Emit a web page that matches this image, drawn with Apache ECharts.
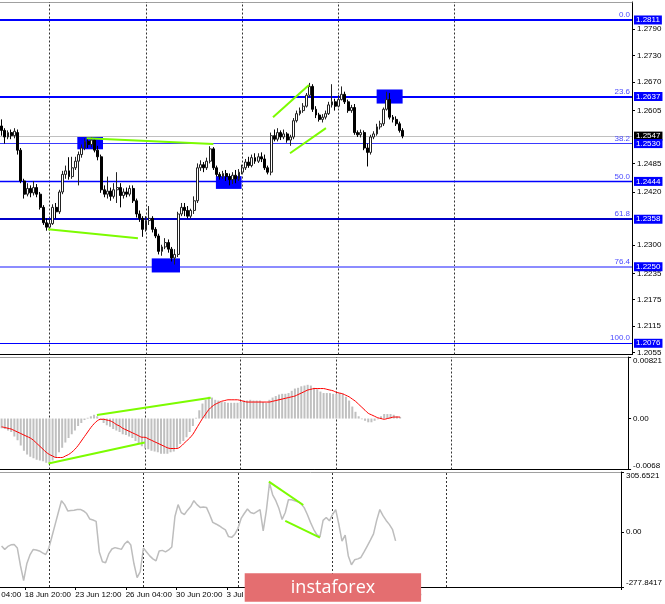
<!DOCTYPE html>
<html><head><meta charset="utf-8">
<script src="https://cdn.jsdelivr.net/npm/echarts@6/dist/echarts.min.js"></script>
<style>html,body{margin:0;padding:0;background:#fff}#c{width:665px;height:604px}</style>
</head><body><div id="c"></div>
<script>
// ---------- DATA ----------
// H4 bars: [open, high, low, close]
const ohlc = [
[1.2570,1.2585,1.2548,1.2560],[1.2560,1.2565,1.2530,1.2545],[1.2545,1.2560,1.2540,1.2555],[1.2555,1.2562,1.2540,1.2548],
[1.2548,1.2565,1.2542,1.2558],[1.2555,1.2562,1.2505,1.2515],[1.2515,1.2520,1.2440,1.2445],[1.2445,1.2450,1.2405,1.2415],
[1.2415,1.2440,1.2410,1.2428],[1.2428,1.2435,1.2408,1.2418],[1.2418,1.2445,1.2412,1.2430],[1.2430,1.2438,1.2408,1.2415],
[1.2415,1.2420,1.2380,1.2385],[1.2385,1.2390,1.2345,1.2350],[1.2350,1.2360,1.2332,1.2340],[1.2340,1.2358,1.2333,1.2348],
[1.2348,1.2392,1.2345,1.2385],[1.2385,1.2395,1.2360,1.2375],[1.2375,1.2425,1.2370,1.2420],[1.2420,1.2468,1.2415,1.2460],
[1.2460,1.2480,1.2450,1.2468],[1.2468,1.2499,1.2448,1.2455],[1.2455,1.2500,1.2450,1.2475],[1.2475,1.2500,1.2470,1.2490],
[1.2490,1.2512,1.2435,1.2505],[1.2505,1.2528,1.2498,1.2520],[1.2520,1.2542,1.2515,1.2535],[1.2535,1.2543,1.2520,1.2528],
[1.2528,1.2545,1.2522,1.2538],[1.2538,1.2542,1.2510,1.2515],[1.2515,1.2525,1.2492,1.2500],[1.2500,1.2505,1.2418,1.2425],
[1.2425,1.2435,1.2408,1.2415],[1.2415,1.2455,1.2405,1.2422],[1.2422,1.2430,1.2400,1.2410],[1.2410,1.2440,1.2405,1.2425],
[1.2425,1.2465,1.2395,1.2430],[1.2430,1.2440,1.2385,1.2412],[1.2412,1.2428,1.2405,1.2420],[1.2420,1.2430,1.2408,1.2415],
[1.2415,1.2435,1.2410,1.2428],[1.2428,1.2435,1.2395,1.2400],[1.2400,1.2405,1.2362,1.2370],[1.2370,1.2378,1.2352,1.2360],
[1.2360,1.2365,1.2318,1.2335],[1.2335,1.2365,1.2330,1.2355],[1.2355,1.2388,1.2345,1.2360],[1.2360,1.2365,1.2328,1.2335],
[1.2335,1.2340,1.2315,1.2320],[1.2320,1.2325,1.2278,1.2285],[1.2285,1.2300,1.2275,1.2295],[1.2295,1.2315,1.2290,1.2305],
[1.2305,1.2312,1.2282,1.2290],[1.2290,1.2295,1.2262,1.2270],[1.2270,1.2290,1.2255,1.2278],[1.2278,1.2375,1.2272,1.2370],
[1.2370,1.2395,1.2365,1.2385],[1.2385,1.2395,1.2365,1.2378],[1.2378,1.2388,1.2360,1.2365],[1.2365,1.2382,1.2360,1.2378],
[1.2378,1.2410,1.2370,1.2400],[1.2400,1.2485,1.2395,1.2475],[1.2475,1.2492,1.2468,1.2482],[1.2482,1.2488,1.2465,1.2475],
[1.2475,1.2498,1.2470,1.2490],[1.2490,1.2524,1.2485,1.2518],[1.2518,1.2522,1.2470,1.2475],[1.2475,1.2480,1.2455,1.2460],
[1.2460,1.2465,1.2448,1.2455],[1.2455,1.2468,1.2450,1.2462],[1.2462,1.2470,1.2445,1.2455],[1.2455,1.2462,1.2435,1.2448],
[1.2448,1.2465,1.2438,1.2458],[1.2458,1.2470,1.2440,1.2450],[1.2450,1.2472,1.2445,1.2465],[1.2465,1.2482,1.2460,1.2475],
[1.2475,1.2495,1.2470,1.2488],[1.2488,1.2500,1.2475,1.2480],[1.2480,1.2505,1.2476,1.2498],[1.2498,1.2508,1.2484,1.2490],
[1.2490,1.2508,1.2486,1.2500],[1.2500,1.2510,1.2488,1.2495],[1.2495,1.2505,1.2470,1.2475],[1.2475,1.2480,1.2460,1.2465],
[1.2465,1.2555,1.2458,1.2548],[1.2548,1.2562,1.2535,1.2540],[1.2540,1.2565,1.2535,1.2555],[1.2555,1.2560,1.2538,1.2545],
[1.2545,1.2562,1.2540,1.2552],[1.2552,1.2556,1.2532,1.2538],[1.2538,1.2550,1.2525,1.2545],[1.2545,1.2588,1.2540,1.2582],
[1.2582,1.2605,1.2578,1.2598],[1.2598,1.2612,1.2594,1.2605],[1.2605,1.2622,1.2600,1.2615],[1.2615,1.2645,1.2612,1.2640],
[1.2640,1.2668,1.2635,1.2660],[1.2660,1.2665,1.2602,1.2608],[1.2608,1.2615,1.2588,1.2595],[1.2595,1.2600,1.2580,1.2585],
[1.2585,1.2597,1.2578,1.2590],[1.2590,1.2605,1.2585,1.2598],[1.2598,1.2625,1.2595,1.2618],[1.2618,1.2665,1.2612,1.2625],
[1.2625,1.2632,1.2605,1.2615],[1.2615,1.2640,1.2612,1.2630],[1.2630,1.2660,1.2628,1.2642],[1.2642,1.2648,1.2620,1.2625],
[1.2625,1.2630,1.2600,1.2605],[1.2605,1.2618,1.2600,1.2612],[1.2612,1.2620,1.2550,1.2555],[1.2555,1.2560,1.2545,1.2550],
[1.2550,1.2562,1.2544,1.2555],[1.2555,1.2560,1.2515,1.2520],[1.2520,1.2530,1.2478,1.2510],[1.2510,1.2550,1.2505,1.2545],
[1.2545,1.2558,1.2540,1.2552],[1.2552,1.2575,1.2548,1.2568],[1.2568,1.2582,1.2562,1.2575],[1.2575,1.2612,1.2570,1.2608],
[1.2608,1.2648,1.2605,1.2630],[1.2630,1.2645,1.2585,1.2590],[1.2590,1.2595,1.2578,1.2585],[1.2585,1.2592,1.2570,1.2575],
[1.2575,1.2580,1.2555,1.2560],[1.2560,1.2565,1.2542,1.2547]
];
const macdMain = [
-0.0013,-0.0014,-0.0016,-0.0018,-0.0024,-0.0029,-0.0036,-0.0043,-0.0048,-0.0051,
-0.0053,-0.0055,-0.0056,-0.0057,-0.0059,-0.0059,-0.0056,-0.0052,-0.0045,-0.0039,
-0.0032,-0.0026,-0.0021,-0.0016,-0.0010,-0.0006,-0.0002,0.0001,0.0003,0.0005,
0.0003,-0.0002,-0.0006,-0.0009,-0.0011,-0.0014,-0.0016,-0.0018,-0.0021,-0.0022,
-0.0024,-0.0026,-0.0030,-0.0033,-0.0037,-0.0040,-0.0041,-0.0043,-0.0044,-0.0045,
-0.0047,-0.0047,-0.0047,-0.0045,-0.0044,-0.0039,-0.0034,-0.0030,-0.0025,-0.0018,
-0.0010,0.0001,0.0011,0.0020,0.0025,0.0029,0.0028,0.0025,0.0024,0.0022,
0.0022,0.0021,0.0021,0.0021,0.0021,0.0022,0.0024,0.0024,0.0025,0.0024,
0.0024,0.0024,0.0022,0.0021,0.0025,0.0028,0.0030,0.0032,0.0033,0.0033,
0.0034,0.0037,0.0040,0.0041,0.0043,0.0044,0.0045,0.0044,0.0041,0.0039,
0.0036,0.0034,0.0034,0.0034,0.0033,0.0033,0.0034,0.0033,0.0029,0.0024,
0.0016,0.0009,0.0003,-0.0001,-0.0003,-0.0005,-0.0005,-0.0003,-0.0001,0.0003,
0.0006,0.0006,0.0006,0.0005,0.0003,0.0002
];
const macdSignal = [
-0.0011,-0.0012,-0.0013,-0.0014,-0.0016,-0.0018,-0.0020,-0.0022,-0.0024,-0.0026,
-0.0029,-0.0033,-0.0037,-0.0041,-0.0045,-0.0048,-0.0050,-0.0052,-0.0052,-0.0052,
-0.0050,-0.0048,-0.0045,-0.0041,-0.0036,-0.0030,-0.0024,-0.0018,-0.0012,-0.0007,
-0.0003,-0.0001,-0.0001,-0.0002,-0.0003,-0.0005,-0.0008,-0.0010,-0.0013,-0.0015,
-0.0017,-0.0019,-0.0021,-0.0023,-0.0025,-0.0025,-0.0027,-0.0029,-0.0031,-0.0033,
-0.0035,-0.0037,-0.0039,-0.0040,-0.0040,-0.0040,-0.0038,-0.0034,-0.0030,-0.0026,
-0.0021,-0.0014,-0.0007,0.0000,0.0006,0.0012,0.0016,0.0019,0.0021,0.0023,
0.0024,0.0025,0.0025,0.0025,0.0025,0.0024,0.0023,0.0022,0.0022,0.0022,
0.0022,0.0022,0.0022,0.0022,0.0022,0.0023,0.0024,0.0025,0.0026,0.0027,
0.0028,0.0029,0.0030,0.0032,0.0034,0.0036,0.0038,0.0039,0.0040,0.0040,
0.0040,0.0040,0.0039,0.0038,0.0037,0.0035,0.0034,0.0033,0.0031,0.0029,
0.0026,0.0023,0.0019,0.0015,0.0011,0.0007,0.0005,0.0003,0.0001,0.0000,
-0.0001,0.0000,0.0001,0.0002,0.0002,0.0002
];
const cci = [
-70,-87,-72,-64,-62,-80,-170,-245,-160,-115,
-88,-90,-95,-105,-113,-80,-20,40,100,160,
140,108,110,112,115,116,108,95,67,62,
55,-100,-150,-155,-110,-85,-78,-82,-87,-60,
-45,-65,-160,-230,-200,-80,-100,-120,-135,-145,
-95,-92,-100,-90,-75,80,140,100,90,112,
130,160,140,126,128,126,90,50,42,33,
22,12,-22,-26,-10,20,70,95,118,100,
95,105,115,7,110,250,190,160,120,65,
100,165,165,160,155,145,125,90,50,15,
-12,-24,60,75,58,90,115,40,-45,-15,
-120,-165,-140,-135,-128,-100,-70,-40,-8,60,
115,84,60,40,15,-44
];
// Fibonacci levels
const fibPct   = ['0.0','23.6','38.2','50.0','61.8','76.4','100.0'];
const fibPrice = [1.2811,1.2637,1.2530,1.2444,1.2358,1.2250,1.2076];
const lastPrice = 1.2547;
// axis tick labels
const priceTicks = [1.2790,1.2730,1.2670,1.2605,1.2485,1.2420,1.2300,1.2235,1.2175,1.2115,1.2055];
const macdTicks = [-0.0068,0,0.00821];
const macdTickText = ['-0.0068','0.00','0.00821'];
const cciTicks = [-277.8417,0,305.6521];
const cciTickText = ['-277.8417','0.00','305.6521'];
// drawn objects (bar index, value)
const priceTrend = [
  [[14.5,1.2335],[42.5,1.2315]],
  [[26.5,1.2542],[66,1.2529]],
  [[84.6,1.2590],[95.8,1.2663]],
  [[89.9,1.2508],[101.1,1.2565]]
];
const macdTrend = [
  [[14.7,-0.0060],[44.9,-0.0032]],
  [[29.9,0.00047],[65.6,0.00277]]
];
const cciTrend = [
  [[84.8,257],[95.7,138]],
  [[90,58],[101,-27]]
];
const boxes = [
  [[23.6,1.2545],[31.6,1.2517]],
  [[66.8,1.2456],[74.8,1.2427]],
  [[46.8,1.2269],[55.6,1.2237]],
  [[116.9,1.2653],[125,1.2621]]
];
const weekLines = [15,45,75,105,141];

// ---------- STYLE ----------
const FONT = 'Liberation Sans';
const fibStyle = [
  {color:'#0000ff',width:2},{color:'#0000ff',width:2},{color:'#3a3aff',width:1},
  {color:'#0000ff',width:1.3},{color:'#0000c8',width:2},{color:'#8c8cff',width:2},{color:'#0000ff',width:1}
];
const SLOTS = 197;
const months = ['Jan','Feb','Mar','Apr','May','Jun','Jul','Aug','Sep','Oct','Nov','Dec'];
function buildTimes(){
  const out = []; let t = Date.UTC(2020,5,17,12);
  while(out.length < SLOTS){
    const d = new Date(t), wd = d.getUTCDay();
    if(wd!==0 && wd!==6){
      const hh = String(d.getUTCHours()).padStart(2,'0');
      out.push(d.getUTCDate()+' '+months[d.getUTCMonth()]+' '+hh+':00');
    }
    t += 4*3600e3;
  }
  return out;
}
const times = buildTimes();
const lastBar = ohlc.length-1;
const showTime = i => i>=8 && i<=lastBar && (i-8)%16===0;

const grids = [
  {left:0,right:33,top:2,height:352.5},
  {left:0,right:33,top:357,height:112.5},
  {left:0,right:33,top:472,height:115}
];
function catAxis(g, labels){
  return {type:'category',gridIndex:g,data:times,boundaryGap:true,position:'bottom',
    axisLine:{show:true,onZero:false,lineStyle:{color:'#000',width:1}},
    axisTick:{show:labels,interval:(i)=>showTime(i),length:3,lineStyle:{color:'#000'}},
    axisLabel:{show:labels,interval:(i)=>showTime(i),align:'left',margin:4,padding:[0,0,0,-2],
      fontFamily:FONT,fontSize:8,color:'#000'},
    splitLine:{show:false}};
}
function valAxis(g){
  return {type:'value',gridIndex:g,min:-0.5,max:SLOTS-0.5,position:'top',
    axisLine:{show:true,onZero:false,lineStyle:{color:'#a0a0a0'}},
    axisTick:{show:false},axisLabel:{show:false},splitLine:{show:false}};
}
const xAxis = [catAxis(0,false),valAxis(0),catAxis(1,false),valAxis(1),catAxis(2,true),valAxis(2)];
function yAx(g,min,max,ticks,fmt){
  return {type:'value',gridIndex:g,position:'right',min:min,max:max,scale:true,
    axisLine:{show:true,onZero:false,lineStyle:{color:'#000'}},
    axisTick:{show:true,customValues:ticks,length:3,lineStyle:{color:'#000'}},
    axisLabel:{show:true,customValues:ticks,formatter:fmt,margin:5,fontFamily:FONT,fontSize:8,color:'#000'},
    splitLine:{show:false}};
}
const yAxis = [
  yAx(0,1.20505,1.28519,priceTicks,(v)=>v.toFixed(4)),
  yAx(1,-0.0068,0.00821,macdTicks,(v)=>macdTickText[macdTicks.findIndex(t=>Math.abs(t-v)<1e-7)]),
  yAx(2,-277.8417,305.6521,cciTicks,(v)=>cciTickText[cciTicks.findIndex(t=>Math.abs(t-v)<1e-3)])
];
[1,2].forEach(k=>{
  yAxis[k].axisLabel.verticalAlignMaxLabel='top';
  yAxis[k].axisLabel.verticalAlignMinLabel='bottom';
});

const GREEN = '#7cfc00';
const series = [];
// vertical weekly grid lines in each panel
[1,3,5].forEach((xi,k)=>{
  series.push({type:'line',xAxisIndex:xi,yAxisIndex:k,data:[],silent:true,z:0,
    markLine:{z:0.5,silent:true,symbol:'none',animation:false,precision:6,label:{show:false},
      lineStyle:{color:'#333',type:[2,2],width:1},
      data:weekLines.map(v=>({xAxis:v}))}});
});
// current price line
series.push({type:'line',xAxisIndex:1,yAxisIndex:0,data:[],silent:true,z:1,
  markLine:{z:1.2,silent:true,symbol:'none',animation:false,precision:6,
    data:[{yAxis:lastPrice,lineStyle:{color:'#c0c0c0',width:1,type:'solid'},
      label:{show:true,position:'end',distance:2,formatter:()=>lastPrice.toFixed(4),color:'#fff',
        backgroundColor:'#000',padding:[1,2,0,2],fontFamily:FONT,fontSize:8}}]}});
// fib lines with price boxes
series.push({type:'line',xAxisIndex:1,yAxisIndex:0,data:[],silent:true,z:2,
  markLine:{z:1.5,silent:true,symbol:'none',animation:false,precision:6,
    data:fibPrice.map((p,i)=>({yAxis:p,lineStyle:{color:fibStyle[i].color,width:fibStyle[i].width,type:'solid'},
      label:{show:true,position:'end',distance:2,formatter:()=>p.toFixed(4),color:'#fff',
        backgroundColor:'#0000ff',padding:[1,2,0,2],fontFamily:FONT,fontSize:8}}))}});
// fib percentage labels
series.push({type:'line',xAxisIndex:1,yAxisIndex:0,data:[],silent:true,z:2,
  markLine:{z:1.5,silent:true,symbol:'none',animation:false,precision:6,
    data:fibPrice.map((p,i)=>({yAxis:p,lineStyle:{color:'rgba(0,0,0,0)',width:1},
      label:{show:true,position:'insideEndTop',distance:[2,1],formatter:()=>fibPct[i],color:'#4b4bff',
        fontFamily:FONT,fontSize:8}}))}});
// blue boxes (above level lines, below candles)
series.push({type:'line',xAxisIndex:1,yAxisIndex:0,data:[],silent:true,z:2.5,
  markArea:{z:2.5,silent:true,precision:6,itemStyle:{color:'#0000ff',opacity:1},
    data:boxes.map(b=>[{coord:b[0]},{coord:b[1]}])}});
// candles
series.push({type:'candlestick',xAxisIndex:0,yAxisIndex:0,z:3,barWidth:2.4,
  data:ohlc.map(r=>[r[0],r[3],r[2],r[1]]),
  itemStyle:{color:'#ffffff',color0:'#000000',borderColor:'#222',borderColor0:'#000',borderWidth:1}});
// trend lines
function trendSeries(list,xi,yi){
  list.forEach(seg=>series.push({type:'line',xAxisIndex:xi,yAxisIndex:yi,data:seg,z:6,symbol:'none',
    silent:true,lineStyle:{color:GREEN,width:2}}));
}
trendSeries(priceTrend,1,0);
// MACD
series.push({type:'bar',xAxisIndex:2,yAxisIndex:1,data:macdMain,barWidth:2,z:2,
  itemStyle:{color:'#c0c0c0'}});
series.push({type:'line',xAxisIndex:2,yAxisIndex:1,data:macdSignal,showSymbol:false,symbol:'none',z:4,
  lineStyle:{color:'#ff0000',width:1},smooth:0.3});
trendSeries(macdTrend,3,1);
// CCI
series.push({type:'line',xAxisIndex:4,yAxisIndex:2,data:cci,showSymbol:false,symbol:'none',z:4,
  lineStyle:{color:'#bdbdbd',width:1.5}});
trendSeries(cciTrend,5,2);

const chart = echarts.init(document.getElementById('c'),null,{renderer:'canvas'});
chart.setOption({
  animation:false,backgroundColor:'#fff',
  grid:grids,xAxis:xAxis,yAxis:yAxis,series:series,
  graphic:[
    {type:'text',x:-25,y:595,z:50,style:{text:'16 Jun 04:00',fill:'#000',font:'8px "'+FONT+'"',textVerticalAlign:'middle'}},
    {type:'rect',z:100,shape:{x:244.7,y:573.3,width:176.4,height:28.4},style:{fill:'#e46e70'}},
    {type:'text',z:101,x:333,y:587.5,style:{text:'instaforex',fill:'#fff',font:'18px "Open Sans"',
      textAlign:'center',textVerticalAlign:'middle'}}
  ]
});
</script></body></html>
